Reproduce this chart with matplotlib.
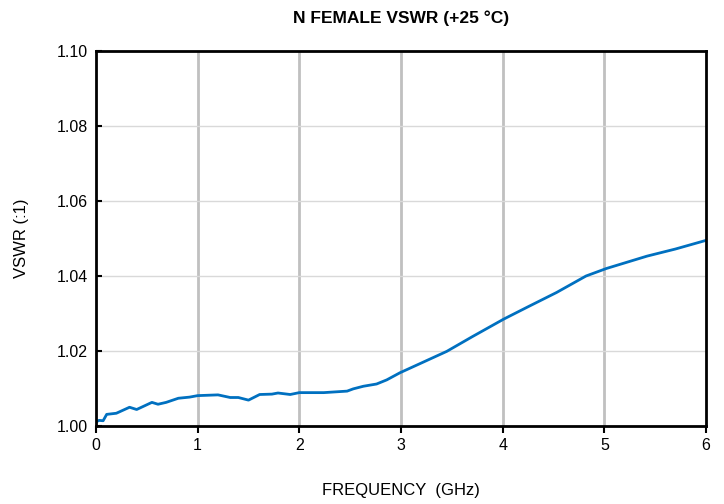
import numpy as np
import matplotlib.pyplot as plt

plt.rcParams['font.family'] = ['Liberation Sans', 'DejaVu Sans']

# частота, ГГц
freq = [0.0, 0.03, 0.07, 0.105, 0.2, 0.33, 0.40, 0.55, 0.61, 0.69, 0.81, 0.92,
        1.0, 1.2, 1.32, 1.40, 1.50, 1.61, 1.73, 1.79, 1.91, 2.0, 2.24, 2.47,
        2.53, 2.63, 2.76, 2.86, 2.99, 3.2, 3.45, 3.7, 4.01, 4.25, 4.53, 4.82,
        5.02, 5.42, 5.7, 6.0]
# КСВН
vswr = [1.0011, 1.0015, 1.0014, 1.0031, 1.0034, 1.0050, 1.0044, 1.0063, 1.0058,
        1.0063, 1.0074, 1.0077, 1.0081, 1.0083, 1.0076, 1.0076, 1.0069, 1.0084,
        1.0085, 1.0088, 1.0084, 1.0089, 1.0089, 1.0093, 1.0099, 1.0106, 1.0112,
        1.0123, 1.0142, 1.0168, 1.0199, 1.0238, 1.0285, 1.0318, 1.0356, 1.0400,
        1.0420, 1.0453, 1.0472, 1.0495]

x_ticks = [0, 1, 2, 3, 4, 5, 6]
y_ticks = [1.00, 1.02, 1.04, 1.06, 1.08, 1.10]

fig = plt.figure(figsize=(7.24, 5.04), dpi=100)
ax = fig.add_axes([96 / 724, 1 - 426 / 504, 610 / 724, 375 / 504])

for v in x_ticks[1:-1]:
    ax.axvline(v, color='#c0c0c0', linewidth=2, zorder=1)
for v in y_ticks[1:-1]:
    ax.axhline(v, color='#d9d9d9', linewidth=1, zorder=1)

ax.plot(freq, vswr, color='#0070c0', linewidth=2, zorder=3)

ax.set_xlim(0, 6)
ax.set_ylim(1.00, 1.10)
ax.set_xticks(x_ticks)
ax.set_yticks(y_ticks)
ax.set_yticklabels(['%.2f' % v for v in y_ticks])

for s in ax.spines.values():
    s.set_linewidth(2)
    s.set_color('black')
    s.set_zorder(4)

ax.tick_params(axis='x', direction='out', length=5, width=1.5, labelsize=11.5, pad=4)
ax.tick_params(axis='y', direction='in', length=4, width=1.5, labelsize=11.5, pad=6)

ax.set_title('N FEMALE VSWR (+25 °C)', fontsize=12.5, fontweight='bold', pad=20)
ax.set_xlabel('FREQUENCY  (GHz)', fontsize=12, labelpad=21)
ax.set_ylabel('VSWR (:1)', fontsize=12, labelpad=20)

fig.savefig('out.png', dpi=100)
